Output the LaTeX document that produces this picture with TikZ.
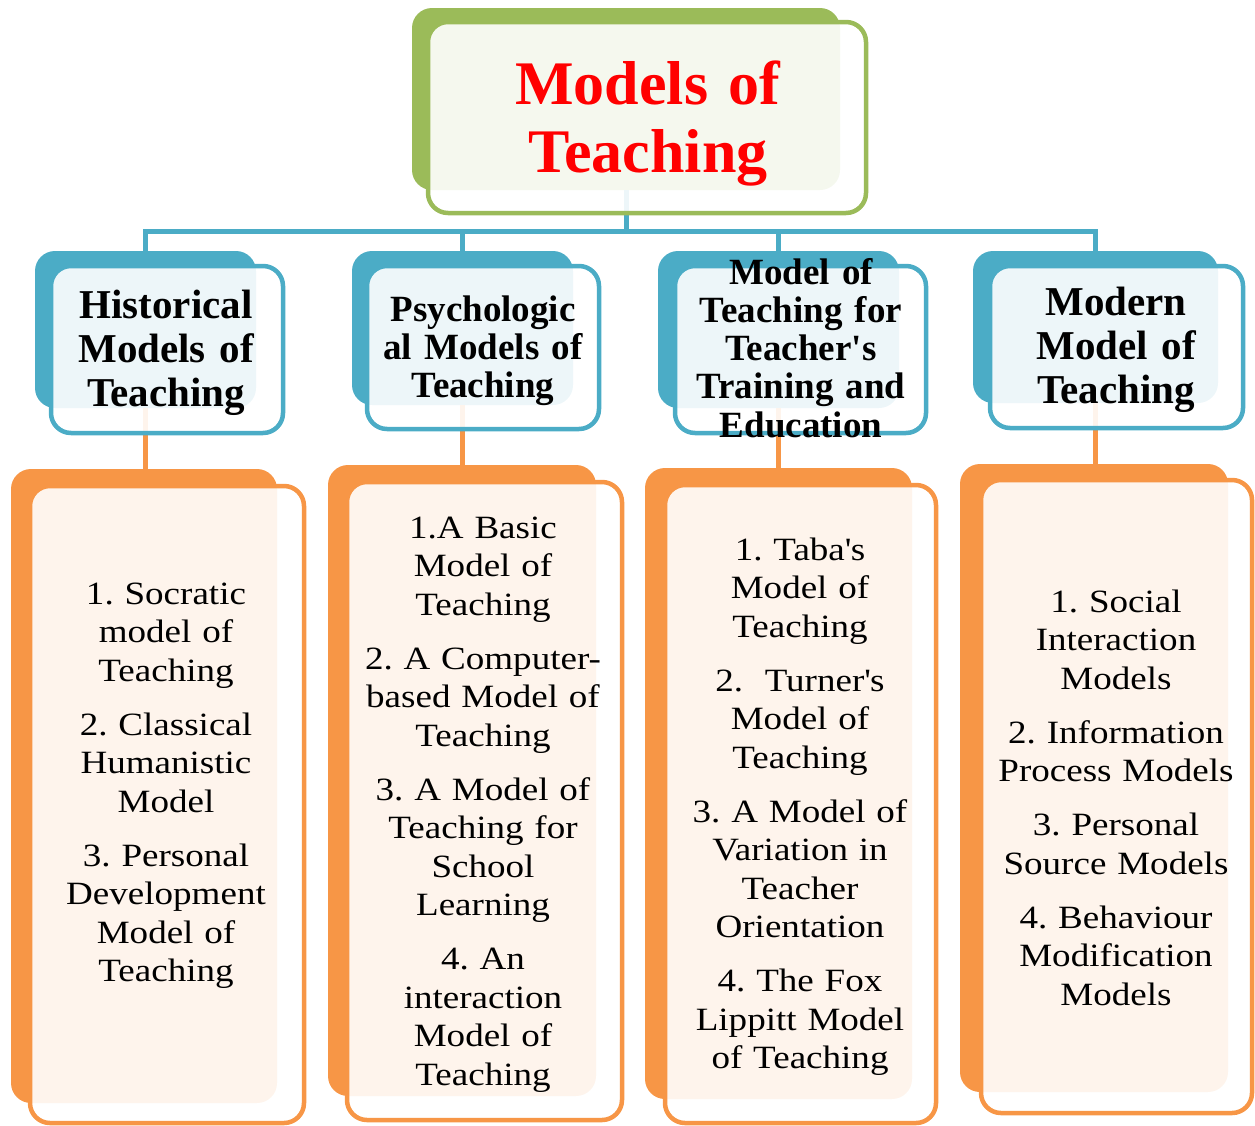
\documentclass[tikz,border=0pt]{standalone}
\usepackage{fontspec}
\setmainfont{Liberation Serif}
\newfontfamily\itemfont[FakeStretch=1.14]{Liberation Serif}
\usepackage{xcolor}
\usepackage{tikz}
\usetikzlibrary{fit}
\frenchspacing

\definecolor{leafgreen}{HTML}{9BBB59}
\definecolor{seablue}{HTML}{4BACC6}
\definecolor{peach}{HTML}{F79646}
\definecolor{titlered}{HTML}{FF0000}

\begin{document}
\begin{tikzpicture}[x=1pt, y=-1pt,
  backbox/.style={fill=#1, rounded corners=20pt, inner sep=0pt},
  frontbox/.style={draw=#1, line width=4.5pt, fill=white, fill opacity=0.9, rounded corners=20pt, inner sep=0pt},
  link/.style={draw=#1, line width=5pt},
  titletext/.style={anchor=base, align=center, text width=420pt, inner sep=0pt, text=titlered, font=\fontsize{62}{68}\selectfont\bfseries},
  headtext/.style={anchor=base, align=center, text width=250pt, inner sep=0pt, font=\fontsize{41}{44}\selectfont\bfseries},
  smallhead/.style={anchor=base, align=center, text width=250pt, inner sep=0pt, font=\fontsize{37}{38.3}\selectfont\bfseries},
  itemtext/.style={anchor=base, align=center, text width=290pt, inner sep=0pt, font=\itemfont\fontsize{32.5}{38.5}\selectfont}]

\useasboundingbox (0,0) rectangle (1255,1125);

% back boxes
\node[backbox=leafgreen, fit={(412,8) (840,190)}] (tb) {};
\foreach \n/\l/\t/\r/\b in {1/35/251/256/408, 2/352/251/573/405, 3/658/251/899/408, 4/973/251/1218/403}{
	\node[backbox=seablue, fit={(\l,\t) (\r,\b)}] (hb\n) {};
}
\foreach \n/\l/\t/\r/\b in {1/11/469/277/1103, 2/328/465/596/1096, 3/645/468/912/1099, 4/960/464/1228/1092}{
	\node[backbox=peach, fit={(\l,\t) (\r,\b)}] (bb\n) {};
}

% connectors
\coordinate (bus) at (626,231);
\draw[link=seablue] (tb.south) -- (bus);
\foreach \n in {1,...,4}{
	\draw[link=seablue] (hb\n.north) |- (bus);
	\draw[link=peach, line width=4.5pt] (hb\n.south) -- (hb\n.south |- bb\n.north);
}

% front boxes
\node[frontbox=leafgreen, fit={(428,22) (866,213)}] (tf) {};
\foreach \n/\l/\t/\r/\b in {1/51/266/283/433, 2/367/266/599/429, 3/675/266/926/433, 4/990/266/1243/428}{
	\node[frontbox=seablue, fit={(\l,\t) (\r,\b)}] (hf\n) {};
}
\foreach \n/\l/\t/\r/\b in {1/30/486/304/1123, 2/347/482/622/1120, 3/665/485/936/1123, 4/981/480/1252/1113}{
	\node[frontbox=peach, fit={(\l,\t) (\r,\b)}] (bf\n) {};
}

% texts
\node[titletext] (title) at (648,104) {Models of\\Teaching};

\node[headtext] (h1) at (166,318) {Historical\\Models of\\Teaching};
\node[smallhead] (h2) at (483,321) {Psychologic\\al Models of\\Teaching};
\node[smallhead] (h3) at (801,284) {Model of\\Teaching for\\Teacher\textquotesingle s\\Training and\\Education};
\node[headtext] (h4) at (1116,315) {Modern\\Model of\\Teaching};

\node[itemtext] (i1) at (166,604) {1. Socratic\\model of\\Teaching\\[15.5pt]
	2. Classical\\Humanistic\\Model\\[15.5pt]
	3. Personal\\Development\\Model of\\Teaching};
\node[itemtext] (i2) at (483,538) {1.A Basic\\Model of\\Teaching\\[15.5pt]
	2. A Computer-\\based Model of\\Teaching\\[15.5pt]
	3. A Model of\\Teaching for\\School\\Learning\\[15.5pt]
	4. An\\interaction\\Model of\\Teaching};
\node[itemtext] (i3) at (800,560) {1. Taba\textquotesingle s\\Model of\\Teaching\\[15.5pt]
	2.\ \ Turner\textquotesingle s\\Model of\\Teaching\\[15.5pt]
	3. A Model of\\Variation in\\Teacher\\Orientation\\[15.5pt]
	4. The Fox\\Lippitt Model\\of Teaching};
\node[itemtext] (i4) at (1116,612) {1. Social\\Interaction\\Models\\[15.5pt]
	2. Information\\Process Models\\[15.5pt]
	3. Personal\\Source Models\\[15.5pt]
	4. Behaviour\\Modification\\Models};
\end{tikzpicture}
\end{document}
